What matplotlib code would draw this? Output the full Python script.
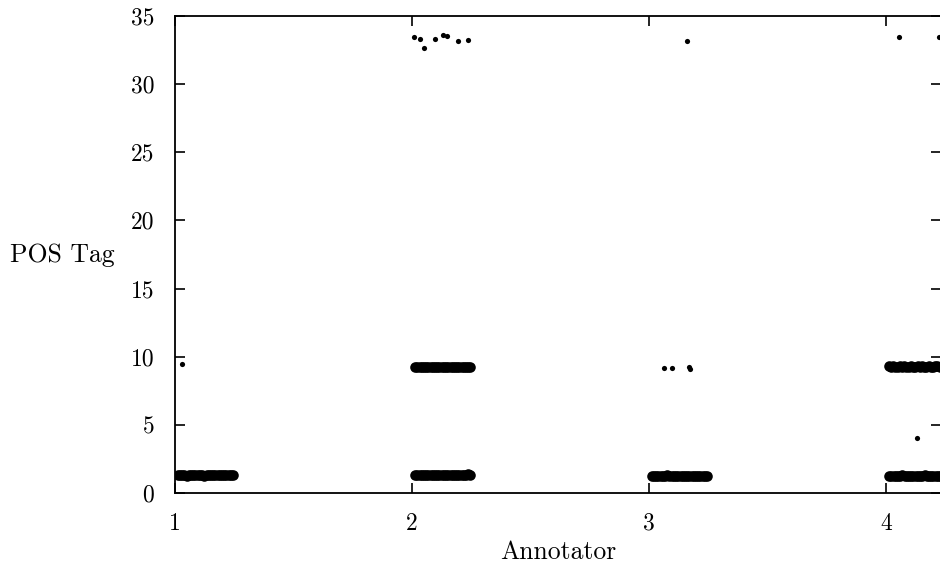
import matplotlib
matplotlib.use("Agg")
import matplotlib.pyplot as plt

plt.rcParams['font.family'] = ['cmr10', 'DejaVu Serif']
plt.rcParams['axes.formatter.use_mathtext'] = True

# ---- data ----
x_ticks = [1, 2, 3, 4]
y_ticks = [0, 5, 10, 15, 20, 25, 30, 35]

# dense bands of points (annotator + small horizontal spread)
a1_low_x = [1.012, 1.021, 1.030, 1.040, 1.049, 1.058, 1.068, 1.077, 1.086, 1.096, 1.105, 1.114, 1.124,
            1.133, 1.142, 1.152, 1.161, 1.170, 1.180, 1.189, 1.198, 1.208, 1.217, 1.227, 1.236, 1.245]
a1_low_y = [1.31, 1.29, 1.32, 1.30, 1.28, 1.31, 1.29, 1.32, 1.30, 1.29, 1.31, 1.30, 1.28,
            1.31, 1.29, 1.32, 1.30, 1.29, 1.31, 1.30, 1.29, 1.32, 1.31, 1.29, 1.31, 1.30]

a2_low_x = [2.014, 2.023, 2.032, 2.041, 2.051, 2.060, 2.069, 2.079, 2.088, 2.097, 2.107, 2.116, 2.125,
            2.135, 2.144, 2.153, 2.163, 2.172, 2.181, 2.191, 2.200, 2.209, 2.219, 2.228, 2.237, 2.246]
a2_low_y = [1.31, 1.34, 1.33, 1.31, 1.34, 1.32, 1.35, 1.33, 1.32, 1.34, 1.33, 1.35, 1.32,
            1.33, 1.35, 1.33, 1.32, 1.34, 1.33, 1.35, 1.34, 1.32, 1.35, 1.33, 1.36, 1.35]

a2_mid_x = [2.014, 2.023, 2.032, 2.041, 2.051, 2.060, 2.069, 2.079, 2.088, 2.097, 2.107, 2.116, 2.125,
            2.135, 2.144, 2.153, 2.163, 2.172, 2.181, 2.191, 2.200, 2.209, 2.219, 2.228, 2.237, 2.246]
a2_mid_y = [9.23, 9.25, 9.22, 9.24, 9.26, 9.24, 9.22, 9.25, 9.23, 9.26, 9.24, 9.22, 9.25,
            9.24, 9.26, 9.25, 9.23, 9.25, 9.24, 9.26, 9.25, 9.23, 9.25, 9.23, 9.26, 9.24]

a3_low_x = [3.012, 3.021, 3.030, 3.040, 3.049, 3.058, 3.068, 3.077, 3.086, 3.096, 3.105, 3.114, 3.124,
            3.133, 3.142, 3.152, 3.161, 3.170, 3.180, 3.189, 3.198, 3.208, 3.217, 3.227, 3.236, 3.246]
a3_low_y = [1.27, 1.26, 1.28, 1.27, 1.25, 1.28, 1.26, 1.29, 1.27, 1.26, 1.28, 1.27, 1.25,
            1.28, 1.26, 1.28, 1.27, 1.25, 1.28, 1.26, 1.26, 1.28, 1.27, 1.25, 1.27, 1.26]

a4_low_x = [4.014, 4.023, 4.032, 4.041, 4.051, 4.060, 4.069, 4.079, 4.088, 4.097, 4.107, 4.116, 4.125,
            4.135, 4.144, 4.153, 4.163, 4.172, 4.181, 4.191, 4.200, 4.209, 4.219, 4.228, 4.237, 4.246]
a4_low_y = [1.26, 1.28, 1.27, 1.25, 1.28, 1.26, 1.29, 1.27, 1.25, 1.28, 1.26, 1.28, 1.27,
            1.25, 1.28, 1.26, 1.29, 1.27, 1.25, 1.28, 1.27, 1.26, 1.28, 1.27, 1.25, 1.28]

a4_mid_x = [4.012, 4.021, 4.030, 4.040, 4.049, 4.058, 4.068, 4.077, 4.086, 4.096, 4.105, 4.114, 4.124,
            4.133, 4.142, 4.152, 4.161, 4.170, 4.180, 4.189, 4.198, 4.208, 4.217, 4.227, 4.236, 4.245]
a4_mid_y = [9.29, 9.27, 9.30, 9.28, 9.26, 9.29, 9.27, 9.30, 9.28, 9.27, 9.29, 9.28, 9.26,
            9.29, 9.27, 9.30, 9.28, 9.27, 9.29, 9.28, 9.27, 9.30, 9.29, 9.27, 9.29, 9.28]

# isolated points
single_x = [1.030, 2.008, 2.034, 2.050, 2.097, 2.131, 2.148, 2.194, 2.236,
            3.063, 3.097, 3.170, 3.172, 3.160, 4.130, 4.055, 4.222]
single_y = [9.45, 33.46, 33.31, 32.65, 33.31, 33.60, 33.53, 33.16, 33.24,
            9.15, 9.15, 9.28, 9.12, 33.20, 4.00, 33.46, 33.45]

# ---- figure ----
W, H = 940, 564
fig = plt.figure(figsize=(W / 100, H / 100), dpi=100)
left, right, bottom, top = 175, 941.5, 493, 16
ax = fig.add_axes([left / W, 1 - bottom / H, (right - left) / W, (bottom - top) / H])

band_x = [a1_low_x, a2_low_x, a2_mid_x, a3_low_x, a4_low_x, a4_mid_x]
band_y = [a1_low_y, a2_low_y, a2_mid_y, a3_low_y, a4_low_y, a4_mid_y]
for bx, by in zip(band_x, band_y):
    ax.scatter(bx, by, s=58, c='black', marker='o', linewidths=0, zorder=3)
ax.scatter(single_x, single_y, s=14, c='black', marker='o', linewidths=0, zorder=3)

ax.set_xlim(1, 1 + (right - left) / 237.0)
ax.set_ylim(0, 35)
ax.set_xticks(x_ticks)
ax.set_yticks(y_ticks)
ax.set_xticklabels([str(v) for v in x_ticks])
ax.set_yticklabels([str(v) for v in y_ticks])

for sp in ax.spines.values():
    sp.set_linewidth(1.3)
    sp.set_color('black')

ax.tick_params(direction='in', length=7.5, width=1.2, top=True, right=True,
               labelsize=17, colors='black')
ax.tick_params(axis='y', pad=15)
ax.tick_params(axis='x', pad=14)

ax.set_xlabel('Annotator', fontsize=18.5)
ax.xaxis.set_label_coords((558 - left) / (right - left), -(559 - bottom) / (bottom - top))
ax.xaxis.label.set_va('baseline')

ax.set_ylabel('POS Tag', fontsize=18.5, rotation=0, ha='right', va='baseline')
ax.yaxis.set_label_coords((115 - left) / (right - left), (bottom - 262) / (bottom - top))

fig.savefig('out.png', dpi=100, facecolor='white')
